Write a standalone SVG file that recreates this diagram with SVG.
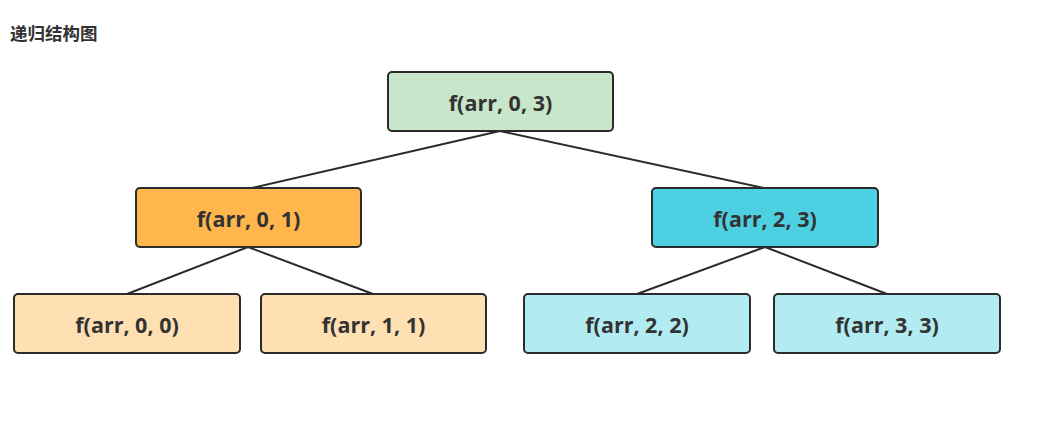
<svg xmlns="http://www.w3.org/2000/svg" width="1044" height="428" viewBox="0 0 1044 428">
<style>
.box{stroke:#2b2b2b;stroke-width:2}
.lbl{font-family:"Open Sans","Noto Sans",sans-serif;font-weight:bold;font-size:21.5px;fill:#333;text-anchor:middle;dominant-baseline:central}
.edge{stroke:#2b2b2b;stroke-width:2;fill:none}
</style>
<rect width="1044" height="428" fill="#fff"/>
<text x="10" y="40" font-family="'Noto Sans CJK SC',sans-serif" font-weight="bold" font-size="17.5" fill="#333">递归结构图</text>
<g id="connectors">
<line class="edge" x1="500" y1="131" x2="252" y2="188"/>
<line class="edge" x1="500" y1="131" x2="764" y2="188"/>
<line class="edge" x1="248" y1="247" x2="127" y2="294"/>
<line class="edge" x1="248" y1="247" x2="373" y2="294"/>
<line class="edge" x1="765" y1="247" x2="637" y2="294"/>
<line class="edge" x1="765" y1="247" x2="887" y2="294"/>
</g>
<g id="n03"><rect class="box" x="388" y="72" width="225" height="59" rx="4" fill="#c8e6c9"/><text class="lbl" x="500.5" y="102">f(arr, 0, 3)</text></g>
<g id="n01"><rect class="box" x="136" y="188" width="225" height="59" rx="4" fill="#ffb74d"/><text class="lbl" x="248.5" y="218">f(arr, 0, 1)</text></g>
<g id="n23"><rect class="box" x="652" y="188" width="226" height="59" rx="4" fill="#4dd0e1"/><text class="lbl" x="765" y="218">f(arr, 2, 3)</text></g>
<g id="n00"><rect class="box" x="14" y="294" width="226" height="59" rx="4" fill="#ffe0b2"/><text class="lbl" x="127" y="324">f(arr, 0, 0)</text></g>
<g id="n11"><rect class="box" x="261" y="294" width="225" height="59" rx="4" fill="#ffe0b2"/><text class="lbl" x="373.5" y="324">f(arr, 1, 1)</text></g>
<g id="n22"><rect class="box" x="524" y="294" width="226" height="59" rx="4" fill="#b2ebf2"/><text class="lbl" x="637" y="324">f(arr, 2, 2)</text></g>
<g id="n33"><rect class="box" x="774" y="294" width="226" height="59" rx="4" fill="#b2ebf2"/><text class="lbl" x="887" y="324">f(arr, 3, 3)</text></g>
</svg>
